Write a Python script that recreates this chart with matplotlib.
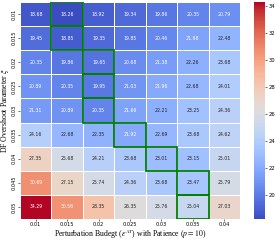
import numpy as np
import matplotlib
matplotlib.use('Agg')
import matplotlib.pyplot as plt
import seaborn as sns
from matplotlib.patches import Rectangle

# perturbation budget (columns) and overshoot parameter (rows)
eps_labels = ['0.01', '0.015', '0.02', '0.025', '0.03', '0.035', '0.04']
xi_labels = ['0.01', '0.015', '0.02', '0.025', '0.03', '0.035', '0.04', '0.045', '0.05']

row_001 = [18.68, 18.26, 18.92, 19.34, 19.86, 20.35, 20.79]
row_0015 = [19.45, 18.85, 19.35, 19.85, 20.46, 21.68, 22.48]
row_002 = [20.35, 19.86, 19.65, 20.68, 21.38, 22.26, 23.68]
row_0025 = [20.89, 20.35, 19.95, 21.03, 21.96, 22.68, 24.01]
row_003 = [21.31, 20.89, 20.35, 21.69, 22.21, 23.25, 24.36]
row_0035 = [24.16, 22.68, 22.35, 21.92, 22.69, 23.68, 24.62]
row_004 = [27.35, 25.68, 24.21, 23.68, 23.01, 23.15, 25.01]
row_0045 = [30.69, 27.15, 25.74, 24.36, 23.68, 23.47, 25.79]
row_005 = [34.29, 30.56, 28.35, 26.35, 25.76, 25.04, 27.03]

vals = np.array([row_001, row_0015, row_002, row_0025, row_003,
                 row_0035, row_004, row_0045, row_005])

serif = 'Liberation Serif'
plt.rcParams['mathtext.fontset'] = 'stix'

fig = plt.figure(figsize=(2.75, 2.41), dpi=100)
ax = fig.add_axes([20/275, 1 - 219/241, 220/275, 217/241])
cax = fig.add_axes([254/275, 1 - 219/241, 11/275, 217/241])

sns.heatmap(vals, ax=ax, cbar_ax=cax, cmap='coolwarm', annot=True, fmt='.2f',
            annot_kws={'fontsize': 3.3}, linewidths=0.5, linecolor='white',
            xticklabels=eps_labels, yticklabels=xi_labels)

# best budget for each row
for i in range(vals.shape[0]):
    j = np.argmin(vals[i])
    ax.add_patch(Rectangle((j, i), 1, 1, fill=False, edgecolor='green', lw=1.3, zorder=5))

ax.tick_params(axis='both', labelsize=3.6, length=1.5, width=0.4, pad=0.6)
plt.setp(ax.get_yticklabels(), rotation=90, va='center')
plt.setp(ax.get_xticklabels(), rotation=0)
ax.set_xlabel(r'Perturbation Budegt ($\varepsilon^{AT}$) with Patience ($p=10$)',
              fontsize=5.6, family=serif, labelpad=0.5)
ax.set_ylabel(r'DF Overshoot Parameter $\xi$', fontsize=5.6, family=serif)
ax.yaxis.set_label_coords(-0.041, 0.5)

cax.tick_params(labelsize=3.8, length=1.5, width=0.4, pad=1)

plt.savefig('out.png', dpi=100)
